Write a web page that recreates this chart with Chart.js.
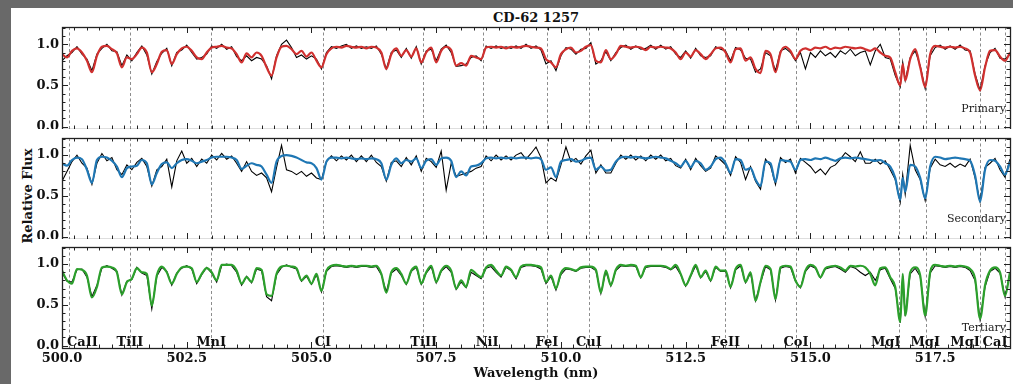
<!DOCTYPE html>
<html><head><meta charset="utf-8">
<script src="https://cdn.jsdelivr.net/npm/chart.js@4.4.1/dist/chart.umd.min.js"></script>
<style>
html,body{margin:0;padding:0;}
body{width:1013px;height:384px;background:#696969;position:relative;overflow:hidden;}
#paper{position:absolute;left:11px;top:8px;width:1002px;height:376px;background:#fff;}
canvas{position:absolute;left:11px;}
#title{position:absolute;left:62px;width:948px;top:10px;line-height:15px;text-align:center;font:bold 13px "DejaVu Serif",serif;color:#111;}
#ylab{position:absolute;left:27px;top:196px;transform:translate(-50%,-50%) rotate(-90deg);font:bold 13px "DejaVu Serif",serif;white-space:nowrap;color:#111;line-height:15px;}
</style></head>
<body>
<div id="paper"></div>
<div id="title">CD-62 1257</div>
<div id="ylab">Relative Flux</div>
<canvas id="c1" width="1002" height="121" style="top:8px"></canvas>
<canvas id="c2" width="1002" height="109" style="top:130px"></canvas>
<canvas id="c3" width="1002" height="144" style="top:240px"></canvas>
<script>
// ---- wavelength grid (nm) ----
const WAVELENGTH = [
500.0,500.1,500.2,500.3,500.4,500.5,500.6,500.7,500.8,500.9,
501.0,501.1,501.2,501.3,501.4,501.5,501.6,501.7,501.8,501.9,
502.0,502.1,502.2,502.3,502.4,502.5,502.6,502.7,502.8,502.9,
503.0,503.1,503.2,503.3,503.4,503.5,503.6,503.7,503.8,503.9,
504.0,504.1,504.2,504.3,504.4,504.5,504.6,504.7,504.8,504.9,
505.0,505.1,505.2,505.3,505.4,505.5,505.6,505.7,505.8,505.9,
506.0,506.1,506.2,506.3,506.4,506.5,506.6,506.7,506.8,506.9,
507.0,507.1,507.2,507.3,507.4,507.5,507.6,507.7,507.8,507.9,
508.0,508.1,508.2,508.3,508.4,508.5,508.6,508.7,508.8,508.9,
509.0,509.1,509.2,509.3,509.4,509.5,509.6,509.7,509.8,509.9,
510.0,510.1,510.2,510.3,510.4,510.5,510.6,510.7,510.8,510.9,
511.0,511.1,511.2,511.3,511.4,511.5,511.6,511.7,511.8,511.9,
512.0,512.1,512.2,512.3,512.4,512.5,512.6,512.7,512.8,512.9,
513.0,513.1,513.2,513.3,513.4,513.5,513.6,513.7,513.8,513.9,
514.0,514.1,514.2,514.3,514.4,514.5,514.6,514.7,514.8,514.9,
515.0,515.1,515.2,515.3,515.4,515.5,515.6,515.7,515.8,515.9,
516.0,516.1,516.2,516.3,516.4,516.5,516.6,516.7,516.8,516.85,516.9,
517.0,517.1,517.2,517.3,517.4,517.5,517.6,517.7,517.8,517.9,
518.0,518.1,518.2,518.3,518.4,518.5,518.6,518.7,518.8,518.9,
519.0];

// ---- Primary: model (red) and observed (black) ----
const PRIMARY_MODEL = [
0.88,0.84,0.92,0.95,0.90,0.80,0.66,0.86,0.97,0.98,
0.94,0.89,0.72,0.84,0.82,0.88,0.96,0.90,0.66,0.76,
0.91,0.93,0.76,0.88,0.95,0.97,0.92,0.84,0.82,0.90,
0.96,0.97,0.98,0.96,0.95,0.88,0.78,0.89,0.84,0.90,
0.86,0.72,0.62,0.84,0.97,0.98,0.94,0.88,0.92,0.85,
0.90,0.80,0.72,0.88,0.95,0.97,0.96,0.98,0.97,0.96,
0.97,0.95,0.97,0.96,0.90,0.70,0.88,0.95,0.86,0.93,
0.85,0.95,0.78,0.90,0.96,0.78,0.92,0.97,0.93,0.74,
0.77,0.74,0.86,0.84,0.82,0.96,0.97,0.96,0.97,0.95,
0.97,0.96,0.97,0.98,0.97,0.96,0.95,0.82,0.78,0.72,
0.88,0.94,0.96,0.90,0.92,0.97,0.99,0.80,0.78,0.93,
0.82,0.88,0.98,0.97,0.96,0.97,0.96,0.93,0.97,0.96,
0.97,0.96,0.95,0.90,0.82,0.90,0.85,0.93,0.88,0.82,
0.88,0.95,0.96,0.90,0.78,0.94,0.95,0.80,0.84,0.70,
0.65,0.92,0.88,0.66,0.90,0.97,0.92,0.82,0.92,0.95,
0.93,0.96,0.95,0.97,0.94,0.96,0.95,0.97,0.96,0.95,
0.96,0.94,0.92,0.95,0.90,0.86,0.84,0.66,0.50,0.76,0.56,
0.82,0.94,0.72,0.48,0.88,0.98,0.97,0.96,0.97,0.96,
0.97,0.95,0.90,0.62,0.44,0.72,0.92,0.93,0.85,0.80,
0.90];
const PRIMARY_OBS = [
0.80,0.86,0.90,0.97,0.88,0.82,0.68,0.88,0.95,1.00,
0.92,0.91,0.74,0.87,0.80,0.90,0.98,0.87,0.64,0.79,
0.89,0.95,0.74,0.90,0.93,0.99,0.90,0.82,0.84,0.88,
0.98,0.95,1.00,0.94,0.97,0.85,0.80,0.86,0.80,0.84,
0.82,0.74,0.58,0.86,1.00,1.05,0.96,0.84,0.87,0.82,
0.86,0.82,0.70,0.90,0.97,0.95,0.98,1.00,0.95,0.98,
0.95,0.97,0.95,0.98,0.88,0.70,0.90,0.93,0.84,0.95,
0.83,0.97,0.76,0.92,0.94,0.80,0.94,0.99,0.90,0.73,
0.74,0.76,0.84,0.86,0.80,0.98,0.95,0.98,0.95,0.97,
0.95,0.98,0.95,1.00,0.95,0.98,0.93,0.76,0.80,0.68,
0.86,0.96,0.94,0.88,0.94,0.95,1.02,0.76,0.80,0.91,
0.80,0.90,0.96,0.99,0.94,0.98,0.94,0.95,0.99,0.94,
0.99,0.94,0.97,0.88,0.84,0.92,0.83,0.95,0.86,0.84,
0.86,0.97,0.94,0.92,0.80,0.96,0.93,0.83,0.82,0.66,
0.70,0.90,0.86,0.68,0.92,0.95,0.90,0.80,0.90,0.70,
0.90,0.84,0.92,0.86,0.90,0.84,0.92,0.88,0.94,0.86,
0.90,0.92,0.75,0.92,1.00,0.84,0.82,0.62,0.48,0.78,0.56,
0.84,0.92,0.74,0.46,0.86,0.96,0.99,0.94,0.98,0.94,
0.99,0.93,0.92,0.64,0.44,0.74,0.90,0.95,0.83,0.82,
0.88];

// ---- Secondary: model (blue) and observed (black) ----
const SECONDARY_MODEL = [
0.90,0.87,0.94,0.97,0.95,0.82,0.66,0.94,0.98,0.97,
0.93,0.86,0.73,0.84,0.86,0.87,0.94,0.90,0.64,0.78,
0.89,0.91,0.84,0.90,0.94,0.95,0.93,0.90,0.92,0.94,
0.97,0.98,0.98,0.98,0.97,0.94,0.83,0.87,0.90,0.88,
0.86,0.76,0.66,0.92,0.99,1.00,0.99,0.97,0.94,0.91,
0.90,0.84,0.70,0.92,0.97,0.97,0.96,0.97,0.96,0.95,
0.96,0.95,0.96,0.95,0.90,0.70,0.88,0.96,0.90,0.94,
0.92,0.96,0.84,0.93,0.95,0.88,0.96,0.97,0.93,0.73,
0.80,0.75,0.86,0.87,0.90,0.96,0.97,0.96,0.97,0.96,
0.97,0.96,0.97,0.97,0.96,0.97,0.95,0.82,0.85,0.73,
0.92,0.94,0.95,0.92,0.93,0.96,0.97,0.82,0.86,0.81,
0.82,0.92,0.97,0.98,0.97,0.98,0.97,0.96,0.97,0.98,
0.97,0.96,0.93,0.90,0.86,0.93,0.85,0.93,0.90,0.82,
0.86,0.95,0.97,0.90,0.78,0.95,0.94,0.82,0.84,0.70,
0.62,0.92,0.90,0.67,0.94,0.93,0.92,0.82,0.94,0.95,
0.94,0.96,0.95,0.97,0.95,0.93,0.96,0.97,0.96,0.97,
0.96,0.95,0.94,0.93,0.94,0.90,0.86,0.72,0.45,0.72,0.55,
0.88,0.86,0.72,0.47,0.86,0.98,0.97,0.95,0.96,0.97,
0.96,0.95,0.93,0.75,0.43,0.82,0.94,0.93,0.86,0.76,
0.92];
const SECONDARY_OBS = [
0.68,0.80,0.92,1.00,0.90,0.84,0.64,0.90,1.02,0.93,
0.97,0.82,0.76,0.88,0.82,0.91,0.96,0.86,0.62,0.82,
0.86,0.95,0.61,0.93,1.05,0.90,0.96,0.86,0.95,0.90,
1.00,0.94,1.02,0.95,0.99,0.90,0.80,0.92,0.80,0.75,
0.78,0.72,0.55,0.85,1.12,0.82,0.80,0.76,0.80,0.74,
0.78,0.72,0.70,0.92,0.99,0.93,0.99,0.94,1.00,0.92,
0.99,0.92,1.00,0.91,0.86,0.68,0.91,0.93,0.86,0.97,
0.88,0.99,0.80,0.96,0.92,0.85,1.05,0.57,0.90,0.74,
0.76,0.78,0.80,0.84,0.86,0.99,0.93,1.00,0.94,0.99,
0.94,1.00,1.03,0.95,1.02,1.10,0.97,0.66,0.72,0.68,
0.88,1.10,0.92,0.96,0.89,0.99,1.06,0.78,0.88,0.78,
0.78,0.90,1.00,0.95,1.00,0.94,0.99,0.93,1.00,0.95,
1.00,0.93,0.96,0.87,0.84,0.95,0.82,0.96,0.87,0.80,
0.84,0.99,0.94,0.88,0.75,0.98,0.91,0.70,0.86,0.68,
0.58,0.95,0.87,0.64,0.97,0.91,0.95,0.78,0.96,0.91,
0.86,0.78,0.83,0.76,0.85,0.88,0.95,1.03,0.98,0.92,
1.04,0.90,0.90,0.95,0.89,0.93,0.82,0.70,0.42,0.76,0.52,
1.12,0.82,0.70,0.44,0.84,0.95,0.88,0.86,0.90,0.85,
0.89,0.86,0.95,0.72,0.43,0.85,0.90,0.96,0.82,0.73,
0.95];

// ---- Tertiary: model (green) and observed (black) ----
const TERTIARY_MODEL = [
0.92,0.80,0.76,0.94,0.93,0.86,0.59,0.72,0.96,0.97,
0.96,0.90,0.63,0.78,0.82,0.95,0.90,0.88,0.49,0.86,
0.97,0.90,0.76,0.88,0.96,0.97,0.95,0.78,0.88,0.95,
0.90,0.80,0.99,0.99,0.99,0.92,0.76,0.84,0.78,0.95,
0.93,0.63,0.61,0.88,0.97,0.98,0.97,0.95,0.80,0.86,
0.76,0.88,0.67,0.92,0.98,0.99,0.98,0.97,0.98,0.97,
0.98,0.98,0.97,0.98,0.88,0.65,0.90,0.95,0.88,0.76,
0.92,0.97,0.76,0.90,0.98,0.78,0.92,0.98,0.92,0.70,
0.80,0.72,0.93,0.88,0.84,0.96,0.99,0.92,0.86,0.97,
0.93,0.84,0.97,0.99,0.99,0.98,0.96,0.78,0.86,0.70,
0.89,0.95,0.94,0.92,0.96,0.97,0.97,0.93,0.65,0.92,
0.74,0.93,0.99,0.98,0.99,0.98,0.84,0.97,0.98,0.98,
0.98,0.97,0.94,0.99,0.88,0.74,0.86,0.99,0.84,0.92,
0.80,0.97,0.92,0.92,0.72,0.94,0.99,0.78,0.90,0.55,
0.78,0.98,0.94,0.57,0.96,0.98,0.97,0.80,0.72,0.92,
0.99,0.96,0.84,0.95,0.97,0.98,0.96,0.92,0.98,0.97,
0.98,0.96,0.88,0.74,0.95,0.96,0.84,0.72,0.29,0.88,0.37,
0.90,0.96,0.86,0.37,0.90,0.99,0.98,0.97,0.98,0.97,
0.98,0.97,0.94,0.82,0.33,0.74,0.92,0.96,0.90,0.61,
0.90];
const TERTIARY_OBS = [
0.90,0.79,0.78,0.93,0.94,0.84,0.60,0.74,0.95,0.98,
0.95,0.91,0.62,0.79,0.81,0.96,0.89,0.86,0.45,0.85,
0.96,0.91,0.74,0.89,0.95,0.98,0.94,0.76,0.87,0.96,
0.89,0.78,0.98,1.00,0.98,0.90,0.74,0.85,0.77,0.94,
0.92,0.60,0.55,0.87,0.96,0.99,0.96,0.94,0.79,0.85,
0.75,0.87,0.66,0.91,0.97,0.98,0.97,0.96,0.97,0.96,
0.97,0.97,0.96,0.97,0.87,0.66,0.89,0.94,0.86,0.75,
0.91,0.96,0.75,0.89,0.97,0.77,0.91,0.97,0.90,0.69,
0.78,0.71,0.90,0.86,0.82,0.95,0.97,0.90,0.84,0.96,
0.92,0.82,0.96,0.98,0.98,0.97,0.94,0.76,0.85,0.68,
0.87,0.94,0.93,0.91,0.95,0.96,0.96,0.92,0.64,0.91,
0.73,0.92,0.98,0.97,0.98,0.97,0.83,0.96,0.97,0.97,
0.97,0.96,0.93,0.97,0.87,0.73,0.85,0.98,0.83,0.91,
0.79,0.96,0.91,0.91,0.71,0.93,0.98,0.77,0.89,0.55,
0.77,0.97,0.93,0.56,0.95,0.97,0.96,0.79,0.71,0.91,
0.98,0.95,0.83,0.94,0.96,0.97,0.94,0.90,0.97,0.95,
0.90,0.86,0.90,0.80,0.93,0.95,0.82,0.70,0.28,0.86,0.36,
0.88,0.95,0.85,0.36,0.89,0.98,0.97,0.96,0.97,0.96,
0.97,0.96,0.92,0.80,0.32,0.72,0.91,0.95,0.89,0.60,
0.89];

// ---- spectral line markers ----
const LINE_WAVELENGTHS = [500.14,501.36,502.99,505.23,507.23,508.44,509.72,510.56,513.29,514.71,516.77,517.31,518.40,518.90];
const LINE_LABELS      = ['CaII','TiII','MnI','CI','TiII','NiI','FeI','CuI','FeII','CoI','MgI','MgI','MgI','CaI'];
const LINE_LABEL_POS   = [500.41,501.36,502.99,505.23,507.25,508.52,509.72,510.56,513.30,514.71,516.51,517.30,518.10,518.70];

const X_MIN = 500, X_MAX = 519, X_MAJOR = 2.5, X_MINOR = 0.25;
const Y_MIN = -0.03, Y_MAX = 1.21, Y_MAJOR = 0.5, Y_MINOR = 0.1;
const FONT = '"DejaVu Serif", serif';

const framePlugin = {
  id: 'specFrame',
  beforeDatasetsDraw(chart) {
    const {ctx, chartArea: a, scales: {x}} = chart;
    ctx.save();
    ctx.strokeStyle = '#8c8c8c'; ctx.lineWidth = 1; ctx.setLineDash([3, 2.5]);
    LINE_WAVELENGTHS.forEach(w => {
      const px = Math.round(x.getPixelForValue(w)) + 0.5;
      ctx.beginPath(); ctx.moveTo(px, a.top); ctx.lineTo(px, a.bottom); ctx.stroke();
    });
    ctx.restore();
  },
  afterDatasetsDraw(chart, args, opts) {
    const {ctx, chartArea: a, scales: {x, y}} = chart;
    ctx.save();
    ctx.strokeStyle = '#222'; ctx.lineWidth = 1;
    for (let k = 0; X_MIN + k * X_MINOR <= X_MAX + 1e-9; k++) {
      const v = X_MIN + k * X_MINOR;
      const major = Math.abs(v / X_MAJOR - Math.round(v / X_MAJOR)) < 1e-6;
      const len = major ? 6 : 3.5;
      const px = Math.round(x.getPixelForValue(v)) + 0.5;
      ctx.beginPath();
      ctx.moveTo(px, a.bottom); ctx.lineTo(px, a.bottom - len);
      ctx.moveTo(px, a.top); ctx.lineTo(px, a.top + len);
      ctx.stroke();
    }
    for (let k = 0; k * Y_MINOR <= 1.2 + 1e-9; k++) {
      const v = k * Y_MINOR;
      const major = Math.abs(v / Y_MAJOR - Math.round(v / Y_MAJOR)) < 1e-6;
      const len = major ? 6 : 3.5;
      const py = Math.round(y.getPixelForValue(v)) + 0.5;
      ctx.beginPath();
      ctx.moveTo(a.left, py); ctx.lineTo(a.left + len, py);
      ctx.moveTo(a.right, py); ctx.lineTo(a.right - len, py);
      ctx.stroke();
    }
    ctx.lineWidth = 1.3;
    ctx.strokeRect(Math.round(a.left) + 0.5, Math.round(a.top) + 0.5, Math.round(a.right - a.left), Math.round(a.bottom - a.top));
    ctx.fillStyle = '#222';
    ctx.font = '11px ' + FONT;
    ctx.textAlign = 'right'; ctx.textBaseline = 'alphabetic';
    ctx.fillText(opts.name, a.right - 4, a.bottom - 17);
    if (opts.lineLabels) {
      ctx.fillStyle = '#111';
      ctx.font = 'bold 13px ' + FONT;
      ctx.textAlign = 'center';
      LINE_LABELS.forEach((t, i) => {
        ctx.fillText(t, x.getPixelForValue(LINE_LABEL_POS[i]), a.bottom - 2);
      });
    }
    ctx.restore();
  }
};

function makePanel(canvasId, padTop, model, obs, color, name, isBottom) {
  const pts = arr => WAVELENGTH.map((w, i) => ({x: w, y: arr[i]}));
  return new Chart(document.getElementById(canvasId), {
    type: 'line',
    data: {
      datasets: [
        {label: name + ' model', data: pts(model), borderColor: color, borderWidth: 2.2,
         pointRadius: 0, cubicInterpolationMode: 'monotone', order: 0},
        {label: name + ' observed', data: pts(obs), borderColor: '#000', borderWidth: 1.1,
         pointRadius: 0, tension: 0, order: 1}
      ]
    },
    options: {
      responsive: false, animation: false, devicePixelRatio: 1,
      layout: {padding: {top: padTop, right: 3, left: 0, bottom: 0}},
      plugins: {legend: {display: false}, tooltip: {enabled: false},
                specFrame: {name: name, lineLabels: isBottom}},
      scales: {
        x: {
          type: 'linear', min: X_MIN, max: X_MAX, display: isBottom,
          grid: {display: false, drawTicks: false}, border: {display: false},
          ticks: {stepSize: X_MAJOR, includeBounds: false, padding: 3, maxRotation: 0,
                  color: '#111', font: {family: FONT, size: 13, weight: 'bold'},
                  callback: v => Number(v).toFixed(1)},
          title: {display: isBottom, text: 'Wavelength (nm)', color: '#111',
                  font: {family: FONT, size: 13, weight: 'bold'}, padding: {top: 0, bottom: 3}},
          afterFit: s => { s.height = isBottom ? 36 : 0; s.paddingLeft = 0; s.paddingRight = 0; }
        },
        y: {
          min: Y_MIN, max: Y_MAX,
          grid: {display: false, drawTicks: false}, border: {display: false},
          ticks: {stepSize: Y_MAJOR, includeBounds: false, padding: 3,
                  color: '#111', font: {family: FONT, size: 13, weight: 'bold'},
                  callback: v => Number(v).toFixed(1)},
          afterFit: s => { s.width = 51; s.paddingTop = 0; s.paddingBottom = 0; }
        }
      }
    },
    plugins: [framePlugin]
  });
}

makePanel('c1', 19, PRIMARY_MODEL, PRIMARY_OBS, '#d0302f', 'Primary', false);
makePanel('c2', 8, SECONDARY_MODEL, SECONDARY_OBS, '#1f77b4', 'Secondary', false);
makePanel('c3', 7, TERTIARY_MODEL, TERTIARY_OBS, '#2ca02c', 'Tertiary', true);
</script>
</body></html>
